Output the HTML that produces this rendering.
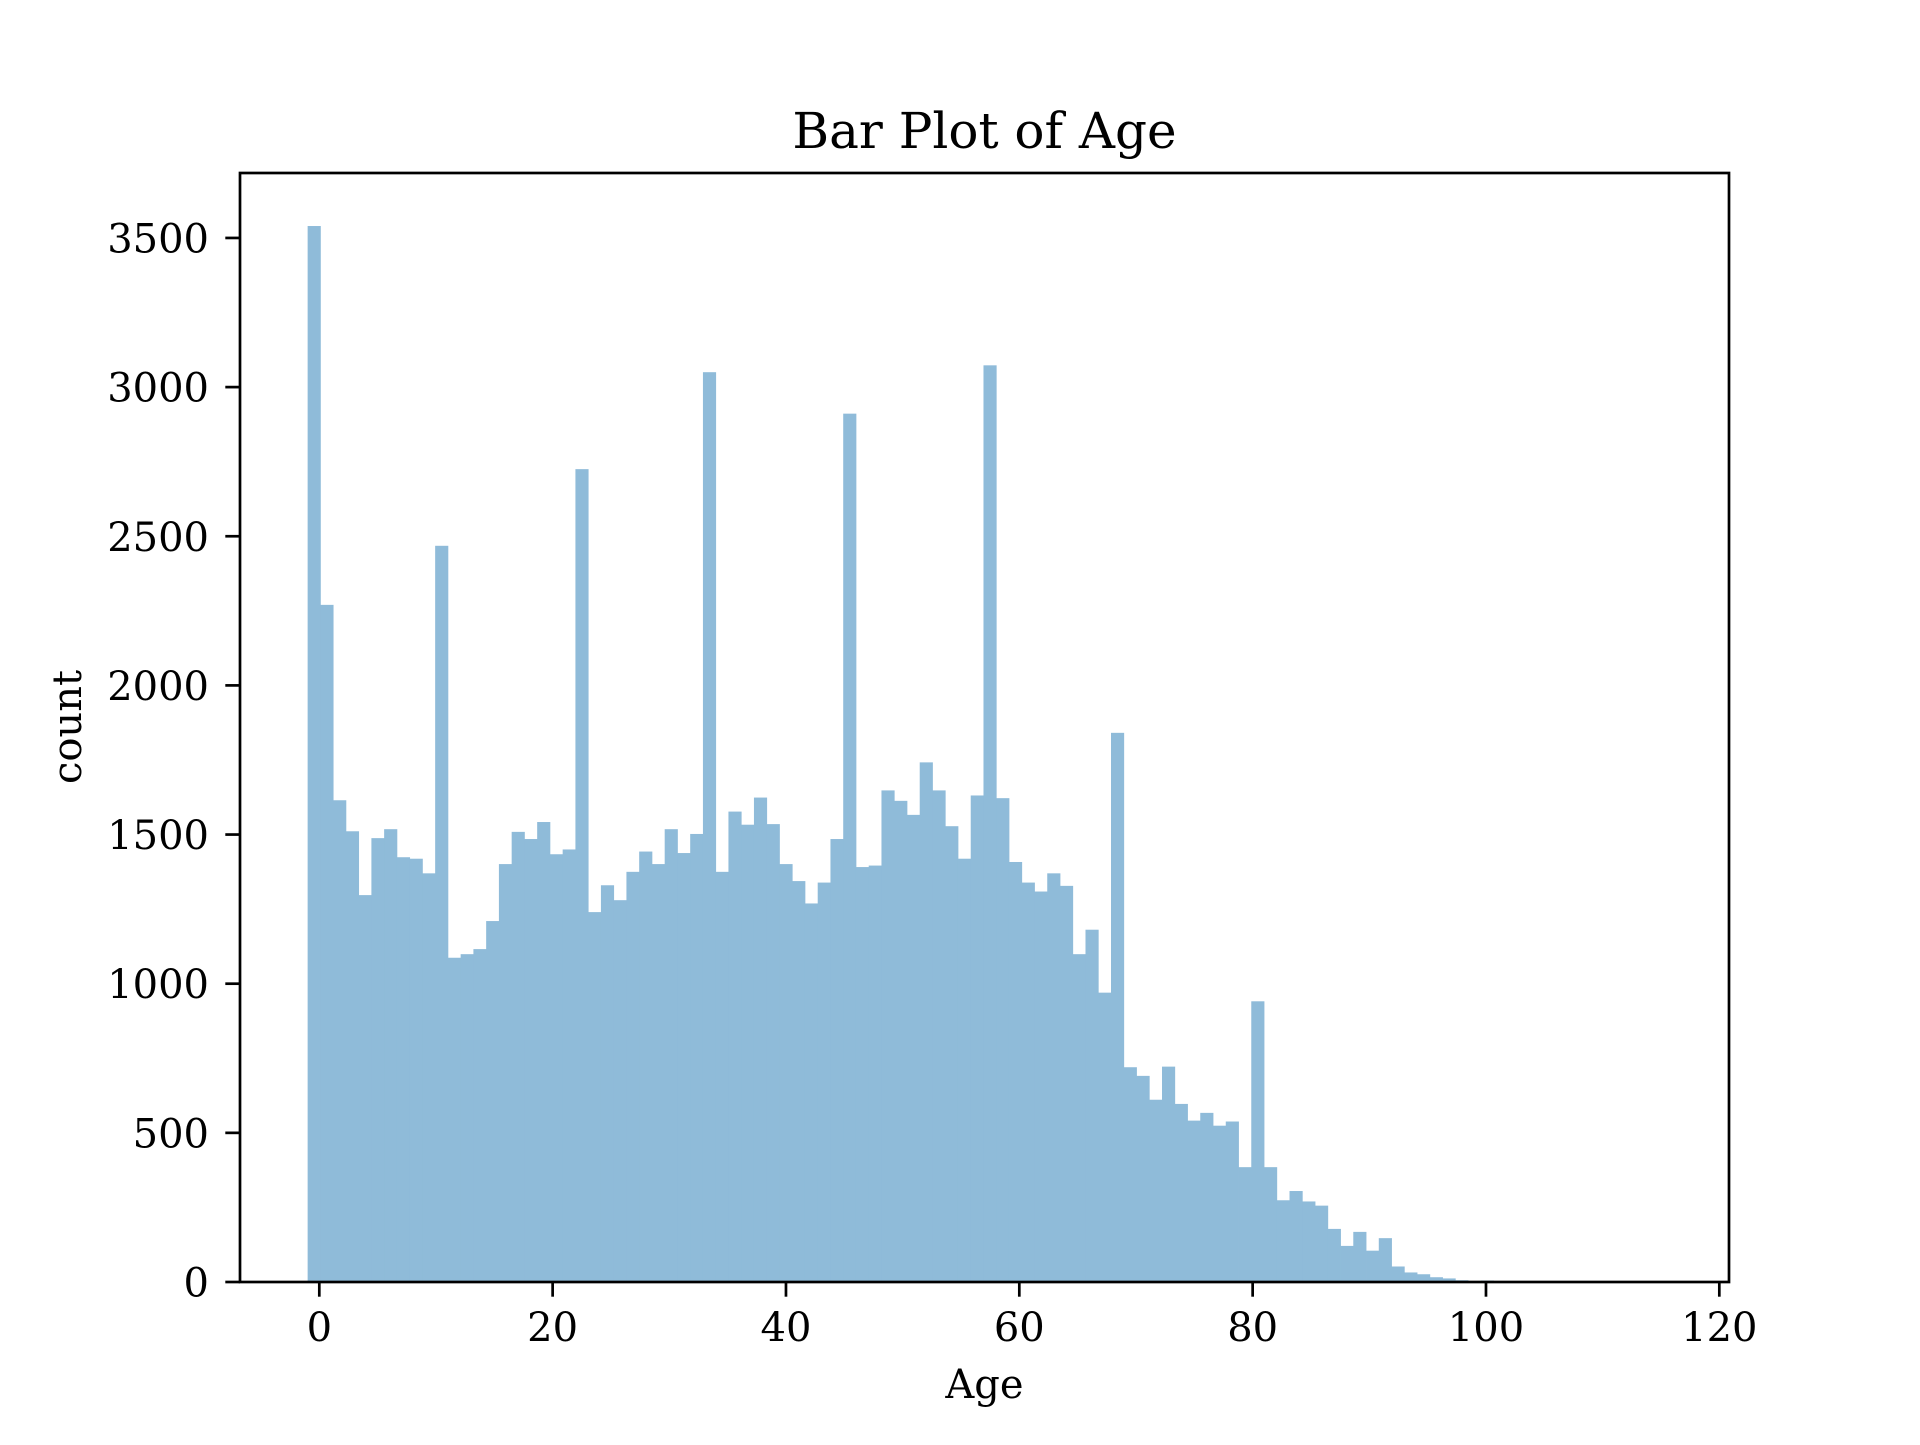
<!DOCTYPE html>
<html><head><meta charset="utf-8"><style>
html,body{margin:0;padding:0;background:#fff;}
svg text{font-family:"DejaVu Serif","Liberation Serif",serif;fill:#000;}
</style></head><body>
<svg id="chart" width="1920" height="1440" viewBox="0 0 1920 1440" xmlns="http://www.w3.org/2000/svg">
<rect x="0" y="0" width="1920" height="1440" fill="#fff"/>
<g id="bars"></g>
<g id="axes"></g>
<text x="984.5" y="148" font-size="50" text-anchor="middle">Bar Plot of Age</text>
<text x="984.5" y="1398" font-size="40" text-anchor="middle">Age</text>
<text transform="translate(81,727) rotate(-90)" x="0" y="0" font-size="40" text-anchor="middle">count</text>
</svg>
<script>
const binStart = -1;
const binWidth = 1.093;
const counts = [3540,2270,1615,1511,1297,1488,1518,1424,1419,1370,
2468,1087,1099,1116,1210,1401,1509,1485,1542,1434,
1450,2725,1240,1330,1280,1375,1443,1401,1518,1438,
1502,3050,1375,1577,1533,1624,1535,1401,1344,1269,
1339,1485,2911,1391,1396,1648,1613,1566,1742,1648,
1528,1419,1631,3073,1622,1408,1339,1309,1370,1328,
1099,1181,970,1841,720,691,611,722,597,541,
567,524,538,385,941,385,274,305,270,256,
178,121,168,105,147,52,32,26,16,12,
6,2,5,0,0,0,0,0,0,0,
0,0,0,0,0,3];
const xTicks = [0,20,40,60,80,100,120];
const yTicks = [0,500,1000,1500,2000,2500,3000,3500];

const L=240,R=1729,T=173,B=1282;
const xMin=-6.797, xMax=120.83;
const yMax=(B-T)/0.2983;
function xs(v){return L+(v-xMin)/(xMax-xMin)*(R-L);}
function ys(v){return B-v/yMax*(B-T);}
const NS="http://www.w3.org/2000/svg";
const bars=document.getElementById('bars');
counts.forEach((c,i)=>{
  if(c<=0) return;
  const x0=xs(binStart+i*binWidth), x1=xs(binStart+(i+1)*binWidth);
  const r=document.createElementNS(NS,'rect');
  r.setAttribute('x',x0);r.setAttribute('y',ys(c));
  r.setAttribute('width',x1-x0+0.4);r.setAttribute('height',B-ys(c));
  r.setAttribute('fill','#8fbbd9');
  
  
  bars.appendChild(r);
});
const axes=document.getElementById('axes');
const frame=document.createElementNS(NS,'rect');
frame.setAttribute('x',L);frame.setAttribute('y',T);frame.setAttribute('width',R-L);frame.setAttribute('height',B-T);
frame.setAttribute('fill','none');frame.setAttribute('stroke','#000');frame.setAttribute('stroke-width','2.7');


axes.appendChild(frame);
xTicks.forEach(v=>{
  const x=xs(v);
  const l=document.createElementNS(NS,'line');
  l.setAttribute('x1',x);l.setAttribute('x2',x);l.setAttribute('y1',B);l.setAttribute('y2',B+14.7);
  l.setAttribute('stroke','#000');l.setAttribute('stroke-width','2.7');
  
  
  axes.appendChild(l);
  const t=document.createElementNS(NS,'text');
  t.setAttribute('x',x);t.setAttribute('y',1341);t.setAttribute('font-size','40');t.setAttribute('text-anchor','middle');
  t.textContent=v;
  
  
  axes.appendChild(t);
});
yTicks.forEach(v=>{
  const y=ys(v);
  const l=document.createElementNS(NS,'line');
  l.setAttribute('x1',L-14.7);l.setAttribute('x2',L);l.setAttribute('y1',y);l.setAttribute('y2',y);
  l.setAttribute('stroke','#000');l.setAttribute('stroke-width','2.7');
  
  
  axes.appendChild(l);
  const t=document.createElementNS(NS,'text');
  t.setAttribute('x',209);t.setAttribute('y',y+14.5);t.setAttribute('font-size','40');t.setAttribute('text-anchor','end');
  t.textContent=v;
  
  
  axes.appendChild(t);
});
</script>
</body></html>
